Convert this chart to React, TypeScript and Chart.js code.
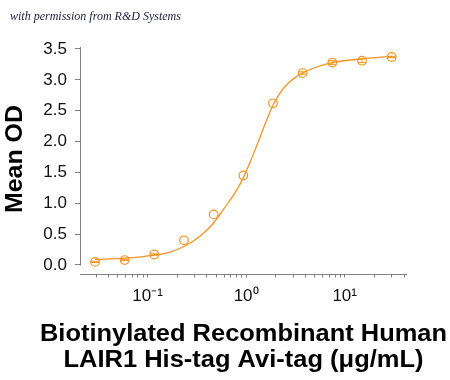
import React, { useEffect, useRef } from 'react';
import { Chart, registerables } from 'chart.js';

Chart.register(...registerables);

// Measured points (µg/mL, Mean OD)
const concentrations = [0.0293, 0.0586, 0.117, 0.234, 0.469, 0.938, 1.875, 3.75, 7.5, 15, 30];
const meanOD = [0.05, 0.08, 0.17, 0.40, 0.82, 1.45, 2.62, 3.11, 3.28, 3.31, 3.37];
const odError = [0.01, 0.01, 0.01, 0, 0, 0, 0, 0.02, 0.03, 0.03, 0.01];

// Fitted curve
const fitConc = [0.0293, 0.0586, 0.117, 0.169, 0.234, 0.343, 0.468, 0.638, 0.794, 0.94, 1.12, 1.28, 1.58, 1.89, 2.24, 2.58, 3.16, 3.75, 5.0, 7.5, 15, 30];
const fitOD = [0.09, 0.11, 0.16, 0.21, 0.30, 0.47, 0.68, 0.98, 1.20, 1.42, 1.70, 1.93, 2.31, 2.60, 2.80, 2.92, 3.04, 3.11, 3.20, 3.28, 3.34, 3.38];

// Axes
const yTicks = [0, 0.5, 1.0, 1.5, 2.0, 2.5, 3.0, 3.5];
const xMajorTicks = [0.1, 1, 10];
const xMajorLabels = ['10⁻¹', '10⁰', '10¹'];
const xMinorTicks = [0.03, 0.04, 0.05, 0.06, 0.07, 0.08, 0.09, 0.2, 0.3, 0.4, 0.5, 0.6, 0.7, 0.8, 0.9, 2, 3, 4, 5, 6, 7, 8, 9, 20, 30, 40];
const yTitle = 'Mean OD';
const xTitle = ['Biotinylated Recombinant Human', 'LAIR1 His-tag Avi-tag (μg/mL)'];
const watermark = 'with permission from R&D Systems';

const ORANGE = '#F39423';
const AXIS = '#808080';
const FONT = "Arial, 'Liberation Sans', Helvetica, sans-serif";
const TITLE_FONT = "bold 23px Arial, 'Liberation Sans', Helvetica, sans-serif";

function drawWideText(ctx: CanvasRenderingContext2D, text: string, targetWidth: number) {
  ctx.font = TITLE_FONT;
  const w = ctx.measureText(text).width;
  const s = w > 0 ? targetWidth / w : 1;
  ctx.save();
  ctx.scale(s, 1);
  ctx.fillText(text, 0, 0);
  ctx.restore();
}

const decorPlugin = {
  id: 'decor',
  beforeDatasetsDraw(chart: any) {
    const { ctx, chartArea, scales } = chart;
    const y = scales.y;
    ctx.save();
    ctx.strokeStyle = AXIS;
    ctx.lineWidth = 1;
    ctx.beginPath();
    const yl = Math.round(chartArea.left) + 0.5;
    ctx.moveTo(yl, chartArea.top);
    ctx.lineTo(yl, Math.round(y.getPixelForValue(0)) + 0.5);
    const xb = Math.round(chartArea.bottom) + 0.5;
    ctx.moveTo(chartArea.left, xb);
    ctx.lineTo(chartArea.right, xb);
    ctx.stroke();
    ctx.restore();
  },
  afterDatasetsDraw(chart: any) {
    const { ctx, scales } = chart;
    const x = scales.x;
    const y = scales.y;
    ctx.save();
    ctx.strokeStyle = ORANGE;
    ctx.lineWidth = 1;
    concentrations.forEach((c, i) => {
      const e = odError[i];
      if (!e) return;
      const px = x.getPixelForValue(c);
      const top = y.getPixelForValue(meanOD[i] + e);
      const bot = y.getPixelForValue(meanOD[i] - e);
      ctx.beginPath();
      ctx.moveTo(px, top);
      ctx.lineTo(px, bot);
      ctx.moveTo(px - 4, top);
      ctx.lineTo(px + 4, top);
      ctx.moveTo(px - 4, bot);
      ctx.lineTo(px + 4, bot);
      ctx.stroke();
    });
    ctx.restore();
  },
  afterDraw(chart: any) {
    const { ctx, chartArea } = chart;
    ctx.save();
    // watermark
    ctx.fillStyle = '#1c1c3c';
    ctx.font = "italic 12px 'Liberation Serif', 'DejaVu Serif', serif";
    ctx.textBaseline = 'alphabetic';
    ctx.textAlign = 'left';
    ctx.fillText(watermark, 10, 20);

    // axis titles
    ctx.fillStyle = '#000';
    ctx.textAlign = 'center';
    ctx.textBaseline = 'alphabetic';
    const cx = (chartArea.left + chartArea.right) / 2;
    ctx.save();
    ctx.translate(cx, 341);
    drawWideText(ctx, xTitle[0], 407);
    ctx.restore();
    ctx.save();
    ctx.translate(cx, 367);
    drawWideText(ctx, xTitle[1], 360);
    ctx.restore();

    ctx.save();
    ctx.textBaseline = 'middle';
    ctx.translate(16, 159);
    ctx.rotate(-Math.PI / 2);
    drawWideText(ctx, yTitle, 108);
    ctx.restore();
    ctx.restore();
  },
};

export default function App() {
  const canvasRef = useRef<HTMLCanvasElement | null>(null);

  useEffect(() => {
    if (!canvasRef.current) return;
    const allXTicks = [...xMinorTicks, ...xMajorTicks].sort((a, b) => a - b);
    const chart = new Chart(canvasRef.current, {
      type: 'scatter',
      data: {
        datasets: [
          {
            type: 'line',
            data: fitConc.map((c, i) => ({ x: c, y: fitOD[i] })),
            borderColor: ORANGE,
            borderWidth: 1.3,
            pointRadius: 0,
            fill: false,
            cubicInterpolationMode: 'monotone',
          } as any,
          {
            type: 'scatter',
            data: concentrations.map((c, i) => ({ x: c, y: meanOD[i] })),
            borderColor: ORANGE,
            backgroundColor: 'rgba(0,0,0,0)',
            borderWidth: 1.2,
            pointRadius: 4.3,
            pointStyle: 'circle',
          } as any,
        ],
      },
      options: {
        animation: false,
        responsive: true,
        maintainAspectRatio: false,
        layout: { padding: { top: 47, right: 43, left: 0, bottom: 0 } },
        plugins: { legend: { display: false }, tooltip: { enabled: false } },
        scales: {
          x: {
            type: 'logarithmic',
            min: 0.02064,
            max: 42.9,
            border: { display: false },
            grid: { drawOnChartArea: false, drawTicks: true, tickLength: 4, color: AXIS },
            afterBuildTicks: (scale: any) => {
              scale.ticks = allXTicks.map((v) => ({ value: v }));
            },
            afterFit: (scale: any) => {
              scale.height = 106.5;
            },
            ticks: {
              autoSkip: false,
              maxRotation: 0,
              minRotation: 0,
              padding: 9,
              color: '#111',
              font: { family: FONT, size: 17 },
              callback: (value: any) => {
                const idx = xMajorTicks.findIndex((m) => Math.abs(m - Number(value)) / m < 1e-6);
                return idx >= 0 ? xMajorLabels[idx] : '';
              },
            },
            title: { display: false },
          },
          y: {
            type: 'linear',
            min: -0.138,
            max: 3.532,
            border: { display: false },
            grid: { drawOnChartArea: false, drawTicks: true, tickLength: 5, color: AXIS },
            afterBuildTicks: (scale: any) => {
              scale.ticks = yTicks.map((v) => ({ value: v }));
            },
            afterFit: (scale: any) => {
              scale.width = 80;
            },
            ticks: {
              padding: 8,
              color: '#111',
              font: { family: FONT, size: 17 },
              callback: (value: any) => Number(value).toFixed(1),
            },
            title: { display: false },
          },
        },
      } as any,
      plugins: [decorPlugin],
    });
    return () => chart.destroy();
  }, []);

  return (
    <div style={{ position: 'fixed', left: 0, top: 0, width: 450, height: 380, background: '#fff' }}>
      <canvas ref={canvasRef} />
    </div>
  );
}
